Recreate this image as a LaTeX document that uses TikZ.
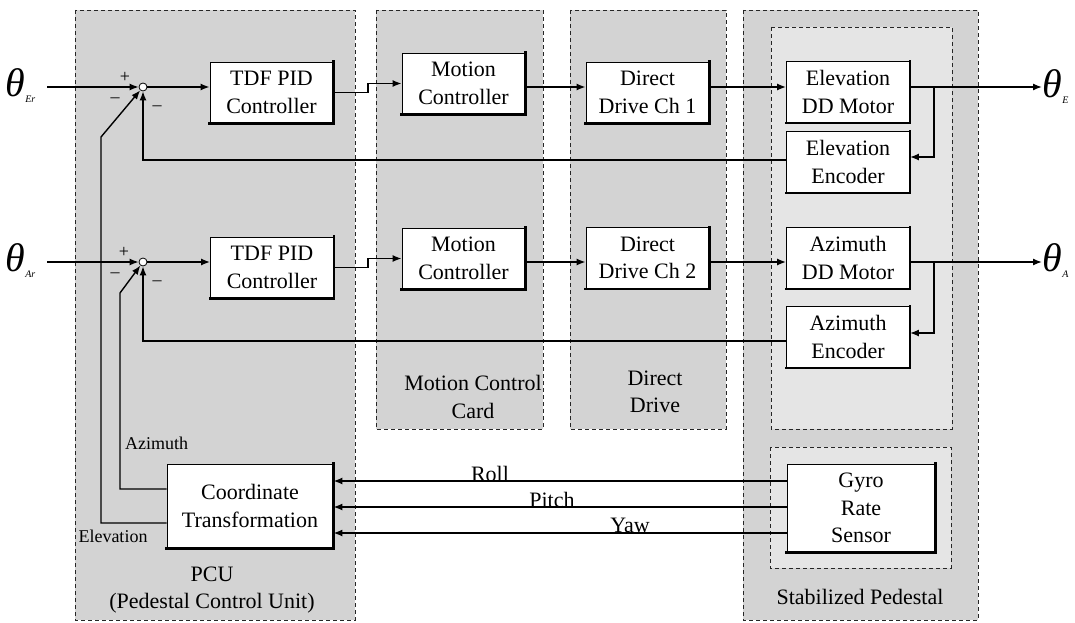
\documentclass[tikz,border=0pt]{standalone}
\usepackage{fontspec}
\setmainfont{Liberation Serif}
\usetikzlibrary{arrows.meta}
\definecolor{regiongray}{RGB}{211,211,211}
\definecolor{innergray}{RGB}{229,229,229}
\newcommand{\boxfont}{\fontsize{22}{27.5}\selectfont}
\newcommand{\smallfont}{\fontsize{18}{22}\selectfont}
\newcommand{\thlab}[1]{{\fontsize{40}{40}\selectfont\itshape θ}\kern0.5pt\raisebox{-6pt}{\fontsize{10}{10}\selectfont\itshape #1}}
\begin{document}
\begin{tikzpicture}[x=1pt, y=-1pt,
  region/.style={draw=black!85, line width=0.8pt, dash pattern=on 4pt off 3pt, fill=regiongray},
  innerregion/.style={draw=black!85, line width=0.8pt, dash pattern=on 4pt off 3pt, fill=innergray},
  blk/.style={draw=black, line width=0.9pt, fill=white, align=center, font=\boxfont,
              minimum width=123pt, minimum height=61pt, inner sep=0pt},
  sig/.style={line width=1.4pt, -{Latex[length=9pt,width=7pt]}},
  sumnode/.style={circle, draw=black, fill=white, line width=0.8pt, minimum size=8pt, inner sep=0pt},
  sign/.style={font=\fontsize{18}{18}\selectfont, inner sep=0pt},
  lab/.style={font=\boxfont, align=center, inner sep=0pt},
  theta/.style={inner sep=0pt, anchor=west}
]
\useasboundingbox (0,0) rectangle (1075,623);

% regions
\draw[region] (75,10) rectangle (355,620);
\draw[region] (376,10) rectangle (543,429);
\draw[region] (570,10) rectangle (726,429);
\draw[region] (743,10) rectangle (978,620);
\draw[innerregion] (771,27) rectangle (952,429);
\draw[innerregion] (770,447) rectangle (951,568);

% region labels
\node[lab] (lmcc) at (473,397) {Motion Control\\Card};
\node[lab] (ldd) at (655,392) {Direct\\Drive};
\node[lab] (lpcu) at (212,590) {PCU\\(Pedestal Control Unit)};
\node[lab, font=\fontsize{22}{26}\selectfont] (lsp) at (860,597) {Stabilized Pedestal};

% blocks
\node[blk] (tdf1) at (271.5,92.5) {TDF PID\\Controller};
\node[blk] (mc1)  at (463.5,83.5) {Motion\\Controller};
\node[blk] (dd1)  at (647.5,92.5) {Direct\\Drive Ch 1};
\node[blk] (elm)  at (848,92) {Elevation\\DD Motor};
\node[blk] (ele)  at (848,162) {Elevation\\Encoder};
\node[blk] (tdf2) at (272,267.5) {TDF PID\\Controller};
\node[blk] (mc2)  at (463.5,258.5) {Motion\\Controller};
\node[blk] (dd2)  at (647.5,258) {Direct\\Drive Ch 2};
\node[blk] (azm)  at (848,258) {Azimuth\\DD Motor};
\node[blk] (aze)  at (848,337) {Azimuth\\Encoder};
\node[blk, minimum width=166pt, minimum height=84pt] (coord) at (250,506) {Coordinate\\Transformation};
\node[blk, minimum width=148pt, minimum height=88pt] (gyro) at (861,508) {Gyro\\Rate\\Sensor};

% shadow edges (thick right and bottom)
\foreach \b in {tdf1,mc1,dd1,elm,ele,tdf2,mc2,dd2,azm,aze,coord,gyro}{
  \draw[line width=2.6pt, line cap=rect] (\b.north east) -- (\b.south east) -- (\b.south west);
}

% summing junctions
\node[sumnode] (s1) at (143,87) {};
\node[sumnode] (s2) at (143,262) {};
\node[sign] at (125,77) {+};
\node[sign] at (115,100) {\textendash};
\node[sign] at (157,108) {\textendash};
\node[sign] at (124,252) {+};
\node[sign] at (115,275) {\textendash};
\node[sign] at (157,283) {\textendash};

% theta labels
\node[theta] (thEr) at (5,86) {\thlab{Er}};
\node[theta] (thAr) at (5,261) {\thlab{Ar}};
\node[theta] (thE) at (1042,87) {\thlab{E}};
\node[theta] (thA) at (1042,261) {\thlab{A}};

% row 1
\draw[sig] (47,87) -- (s1);
\draw[sig] (s1) -- (tdf1.west |- s1);
\draw[sig] (tdf1.east) -- (368,92.5) |- (mc1.west);
\draw[sig] (mc1.east |- s1) -- (dd1.west |- s1);
\draw[sig] (dd1.east |- s1) -- (elm.west |- s1);
\draw[sig] (elm.east |- s1) -- (thE.west |- s1);
\draw[sig] (934,87) |- (ele.east |- 0,157);
\draw[sig] (ele.west |- 0,160) -- (143,160) -- (s1);

% row 2
\draw[sig] (47,262) -- (s2);
\draw[sig] (s2) -- (tdf2.west |- s2);
\draw[sig] (tdf2.east) -- (368,267.5) |- (mc2.west);
\draw[sig] (mc2.east |- s2) -- (dd2.west |- s2);
\draw[sig] (dd2.east |- s2) -- (azm.west |- s2);
\draw[sig] (azm.east |- s2) -- (thA.west |- s2);
\draw[sig] (934,262) |- (aze.east |- 0,333);
\draw[sig] (aze.west |- 0,341) -- (143,341) -- (s2);

% coordinate transformation outputs
\draw[sig] (coord.west |- 0,523) -- (101,523) -- (101,137) -- (s1);
\draw[sig] (coord.west |- 0,489) -- (120,489) -- (120,293) -- (s2);
\node[font=\smallfont, anchor=west, inner sep=0pt] (lazi) at (125,443) {Azimuth};
\node[font=\smallfont, inner sep=0pt] (lele) at (113,536) {Elevation};

% gyro signals
\draw[sig] (gyro.west |- 0,481) -- (coord.east |- 0,481);
\draw[sig] (gyro.west |- 0,507) -- (coord.east |- 0,507);
\draw[sig] (gyro.west |- 0,533) -- (coord.east |- 0,533);
\node[font=\boxfont, anchor=base, inner sep=0pt] (lroll) at (490,481) {Roll};
\node[font=\boxfont, anchor=base, inner sep=0pt] (lpitch) at (552,507) {Pitch};
\node[font=\boxfont, anchor=base, inner sep=0pt] (lyaw) at (630,532) {Yaw};
\end{tikzpicture}
\end{document}
